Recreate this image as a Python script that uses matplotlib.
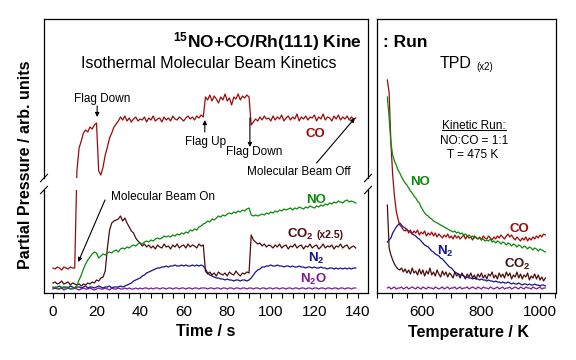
"""
15NO+CO/Rh(111) kinetic run: isothermal molecular beam traces + TPD
"""
import numpy as np
import matplotlib
matplotlib.use('Agg')
import matplotlib.pyplot as plt
from matplotlib.ticker import MultipleLocator
from matplotlib.transforms import Bbox
from matplotlib.lines import Line2D

plt.rcParams['font.family'] = ['Liberation Sans', 'DejaVu Sans']
plt.rcParams['mathtext.fontset'] = 'custom'
plt.rcParams['mathtext.rm'] = 'Liberation Sans'
plt.rcParams['mathtext.bf'] = 'Liberation Sans:bold'
plt.rcParams['mathtext.it'] = 'Liberation Sans:italic'

# ---- data: isothermal kinetics (time / s, partial pressure arb. units) ----
t_kin = np.arange(140)

co_kin = [25, 24, 26, 25, 23, 26, 25, 24, 26, 25,
          25, 122, 145, 152, 160, 163, 161, 166, 164, 168,
          170, 122, 118, 126, 138, 146, 155, 160, 166, 169,
          172, 176, 173, 177, 172, 175, 171, 174, 176, 172,
          174, 173, 176, 171, 175, 173, 177, 172, 174, 175,
          171, 176, 173, 175, 172, 177, 174, 173, 176, 174,
          172, 175, 177, 174, 176, 173, 177, 175, 178, 176,
          196, 193, 198, 192, 197, 194, 190, 196, 193, 199,
          192, 195, 188, 196, 194, 199, 193, 197, 195, 198,
          196, 168, 171, 174, 172, 176, 173, 177, 174, 175,
          172, 177, 173, 176, 174, 178, 172, 175, 177, 173,
          176, 174, 179, 172, 176, 174, 177, 173, 176, 175,
          178, 172, 176, 174, 179, 173, 176, 175, 172, 177,
          174, 178, 173, 176, 174, 177, 173, 176, 174, 175]

no_kin = [5, 6, 5, 4, 6, 5, 5, 6, 4, 5,
          5, 8, 13, 18, 24, 29, 33, 36, 39, 41,
          40, 35, 37, 39, 38, 40, 41, 40, 42, 43,
          41, 44, 45, 44, 46, 45, 47, 48, 47, 49,
          50, 49, 51, 52, 51, 53, 52, 54, 55, 54,
          55, 57, 56, 57, 56, 58, 57, 59, 58, 60,
          59, 61, 60, 63, 62, 64, 63, 66, 67, 69,
          70, 72, 71, 74, 73, 75, 77, 76, 78, 77,
          79, 80, 79, 81, 80, 82, 81, 83, 82, 84,
          85, 78, 77, 78, 77, 78, 79, 78, 80, 79,
          81, 80, 82, 81, 83, 82, 84, 83, 84, 85,
          83, 85, 84, 86, 85, 84, 86, 85, 87, 86,
          85, 87, 86, 88, 87, 89, 88, 90, 89, 91,
          90, 92, 91, 90, 92, 93, 91, 92, 91, 90]

co2_kin = [10, 11, 9, 10, 12, 9, 10, 11, 8, 10,
           9, 8, 9, 7, 9, 8, 10, 9, 11, 10,
           13, 12, 15, 16, 22, 45, 63, 70, 72, 73,
           74, 77, 72, 75, 70, 66, 62, 60, 55, 52,
           50, 47, 49, 46, 48, 45, 47, 44, 48, 46,
           45, 49, 46, 47, 44, 48, 46, 49, 45, 47,
           48, 45, 49, 46, 48, 47, 45, 49, 47, 48,
           22, 19, 21, 18, 20, 17, 21, 19, 18, 20,
           17, 21, 19, 18, 22, 19, 17, 20, 19, 21,
           20, 58, 53, 51, 49, 50, 47, 49, 46, 48,
           47, 45, 48, 46, 49, 45, 47, 48, 44, 47,
           46, 49, 45, 47, 48, 44, 47, 46, 49, 45,
           47, 48, 44, 46, 49, 45, 47, 46, 48, 44,
           47, 46, 49, 45, 47, 48, 44, 46, 47, 45]

n2_kin = [6, 5, 6, 7, 5, 6, 6, 5, 7, 6,
          5, 6, 6, 5, 6, 7, 5, 6, 6, 5,
          6, 7, 6, 5, 6, 6, 7, 5, 6, 6,
          6, 7, 6, 7, 8, 9, 10, 12, 13, 14,
          15, 17, 18, 20, 21, 22, 23, 24, 25, 25,
          26, 26, 27, 26, 27, 27, 28, 27, 27, 28,
          27, 28, 27, 27, 28, 27, 28, 27, 28, 27,
          24, 20, 18, 17, 16, 15, 15, 14, 14, 13,
          14, 13, 13, 12, 13, 13, 12, 13, 13, 12,
          13, 15, 18, 21, 23, 24, 26, 26, 27, 27,
          28, 27, 27, 28, 27, 27, 26, 27, 27, 26,
          27, 26, 26, 27, 26, 26, 25, 26, 26, 25,
          26, 25, 25, 26, 25, 25, 24, 25, 25, 24,
          25, 24, 25, 24, 25, 24, 25, 24, 25, 25]

n2o_kin = [4, 5, 4, 4, 5, 3, 4, 5, 4, 4,
           5, 4, 3, 4, 5, 4, 4, 5, 4, 3,
           4, 5, 4, 4, 5, 4, 3, 5, 4, 4,
           5, 4, 4, 5, 4, 5, 4, 4, 5, 4,
           5, 4, 5, 5, 4, 5, 4, 5, 5, 4,
           5, 5, 4, 5, 5, 4, 5, 5, 4, 5,
           5, 4, 5, 5, 4, 5, 5, 4, 5, 5,
           5, 4, 5, 5, 4, 5, 5, 4, 5, 5,
           4, 5, 5, 4, 5, 5, 4, 5, 5, 4,
           5, 5, 4, 5, 5, 4, 5, 5, 4, 5,
           5, 4, 5, 5, 4, 5, 5, 4, 5, 5,
           4, 5, 5, 4, 5, 5, 4, 5, 5, 4,
           5, 5, 4, 5, 5, 4, 5, 5, 4, 5,
           5, 4, 5, 5, 4, 5, 5, 4, 5, 5]

# ---- data: TPD after the run (temperature / K) ----
t_tpd = np.arange(484, 1020, 6)

co_tpd = [213, 200, 150, 118, 97, 82, 74, 68, 66, 63,
          62, 64, 60, 63, 59, 62, 60, 63, 58, 61,
          59, 62, 57, 60, 58, 61, 57, 60, 56, 59,
          57, 55, 58, 56, 59, 55, 57, 54, 58, 55,
          57, 54, 56, 58, 54, 57, 55, 56, 53, 57,
          55, 54, 56, 53, 57, 55, 54, 57, 55, 53,
          56, 54, 57, 55, 58, 56, 54, 57, 59, 56,
          58, 55, 53, 56, 54, 52, 55, 53, 56, 52,
          55, 53, 56, 54, 57, 55, 58, 56, 59, 58]

no_tpd = [196, 175, 150, 138, 132, 128, 123, 120, 116, 113,
          110, 108, 105, 102, 100, 97, 95, 92, 90, 86,
          83, 80, 78, 77, 75, 74, 72, 71, 70, 69,
          68, 67, 66, 65, 64, 63, 62, 61, 62, 60,
          61, 59, 60, 58, 59, 57, 58, 56, 57, 55,
          56, 54, 55, 53, 54, 52, 53, 52, 54, 51,
          52, 50, 52, 51, 49, 51, 50, 48, 50, 49,
          47, 49, 48, 46, 48, 47, 45, 47, 46, 44,
          46, 45, 43, 45, 44, 42, 44, 43, 42, 41]

n2_tpd = [51, 53, 55, 60, 63, 66, 68, 70, 68, 66,
          65, 63, 62, 61, 59, 58, 57, 55, 54, 52,
          50, 48, 47, 46, 44, 42, 41, 39, 38, 37,
          35, 34, 32, 30, 28, 26, 25, 23, 21, 20,
          19, 18, 18, 17, 16, 16, 15, 15, 14, 15,
          14, 14, 13, 14, 13, 13, 12, 13, 12, 12,
          11, 12, 11, 11, 10, 11, 10, 10, 11, 10,
          9, 10, 9, 9, 10, 9, 8, 9, 9, 8,
          9, 8, 8, 9, 8, 8, 7, 8, 8, 7]

co2_tpd = [88, 45, 38, 33, 29, 26, 24, 23, 25, 21,
           24, 20, 23, 19, 25, 20, 22, 18, 24, 19,
           23, 17, 22, 19, 25, 18, 21, 17, 23, 19,
           16, 22, 18, 21, 16, 20, 18, 15, 21, 17,
           19, 15, 20, 17, 14, 19, 16, 20, 15, 18,
           14, 19, 16, 20, 15, 18, 14, 19, 17, 21,
           15, 18, 14, 20, 16, 19, 15, 21, 17, 20,
           14, 18, 16, 21, 15, 19, 14, 18, 16, 20,
           13, 17, 15, 19, 14, 18, 13, 16, 12, 15]

n2o_tpd = [5, 6, 4, 5, 6, 4, 5, 5, 6, 4,
           5, 6, 4, 5, 6, 5, 4, 6, 5, 4,
           6, 5, 4, 6, 5, 5, 4, 6, 5, 4,
           5, 6, 4, 5, 6, 4, 5, 5, 6, 4,
           5, 6, 4, 5, 5, 6, 4, 5, 6, 5,
           4, 6, 5, 4, 6, 5, 5, 4, 6, 5,
           4, 5, 6, 4, 5, 6, 4, 5, 5, 6,
           4, 5, 6, 5, 4, 6, 5, 4, 6, 5,
           5, 4, 6, 5, 4, 5, 6, 4, 5, 5]

C_CO = '#9c0a0a'
C_NO = '#0a8a0a'
C_CO2 = '#4e0c0c'
C_N2 = '#14148c'
C_N2O = '#7c1a9a'

W, H = 576, 360
fig = plt.figure(figsize=(W / 100, H / 100), dpi=100)


def frac(x0, y0, x1, y1):
    # pixel box (origin top-left) -> figure rect
    return [x0 / W, 1 - y1 / H, (x1 - x0) / W, (y1 - y0) / H]


ax_top = fig.add_axes(frac(44, 19, 368, 178))
ax_bot = fig.add_axes(frac(44, 190, 368, 293))
ax_tpd = fig.add_axes(frac(377, 19, 556, 293))

lw = 0.9
for ax in (ax_top, ax_bot):
    ax.plot(t_kin, n2o_kin, color=C_N2O, lw=lw)
    ax.plot(t_kin, n2_kin, color=C_N2, lw=lw)
    ax.plot(t_kin, co2_kin, color=C_CO2, lw=lw)
    ax.plot(t_kin, no_kin, color=C_NO, lw=lw)
    ax.plot(t_kin, co_kin, color=C_CO, lw=lw)
    ax.set_xlim(-4.1, 144.6)
    ax.set_yticks([])
    for s in ax.spines.values():
        s.set_linewidth(0.9)

ax_top.set_ylim(115, 274)
ax_bot.set_ylim(0, 103)
ax_top.spines['bottom'].set_visible(False)
ax_bot.spines['top'].set_visible(False)
ax_top.set_xticks([])

ax_tpd.plot(t_tpd, n2o_tpd, color=C_N2O, lw=lw)
ax_tpd.plot(t_tpd, co2_tpd, color=C_CO2, lw=lw)
ax_tpd.plot(t_tpd, n2_tpd, color=C_N2, lw=lw)
ax_tpd.plot(t_tpd, co_tpd, color=C_CO, lw=lw)
ax_tpd.plot(t_tpd, no_tpd, color=C_NO, lw=lw)
ax_tpd.set_xlim(449, 1054)
ax_tpd.set_ylim(0, 274)
ax_tpd.set_yticks([])
for s in ax_tpd.spines.values():
    s.set_linewidth(0.9)

for ax, maj, mnr in ((ax_bot, 20, 5), (ax_tpd, 200, 50)):
    ax.xaxis.set_major_locator(MultipleLocator(maj))
    ax.xaxis.set_minor_locator(MultipleLocator(mnr))
    ax.tick_params(axis='x', which='both', direction='out', length=3.6,
                   width=0.8, labelsize=11, pad=5)

# broken-axis slashes on the left panel
for xp in (44, 368):
    for yp in (178, 190):
        fig.add_artist(Line2D([(xp - 3.5) / W, (xp + 3.5) / W],
                              [1 - (yp + 3.7) / H, 1 - (yp - 3.7) / H],
                              color='k', lw=0.8))

# titles (the left part is cut off by the panel edge, as in the original)
ttl = fig.text(172.7 / W, 1 - 47 / H, r'$^{\mathbf{15}}$NO+CO/Rh(111) Kine',
               fontsize=12.5, fontweight='bold', ha='left', va='baseline')
ttl.set_clip_box(Bbox.from_extents(0, 0, 361, H))
ttl.set_clip_on(True)
fig.text(383 / W, 1 - 47 / H, ': Run', fontsize=12.5, fontweight='bold',
         ha='left', va='baseline')
fig.text(209 / W, 1 - 68.5 / H, 'Isothermal Molecular Beam Kinetics',
         fontsize=11.5, ha='center', va='baseline')
fig.text(26 / W, 1 - 165 / H, 'Partial Pressure / arb. units', rotation=90,
         fontsize=11.5, fontweight='bold', ha='center', va='center')
fig.text(205.5 / W, 1 - 336.5 / H, 'Time / s', fontsize=11.5,
         fontweight='bold', ha='center', va='baseline')
fig.text(468.5 / W, 1 - 336.5 / H, 'Temperature / K', fontsize=11.5,
         fontweight='bold', ha='center', va='baseline')

# annotations on the kinetic panel
arw = dict(arrowstyle='-|>', color='k', lw=0.8, mutation_scale=6,
           shrinkA=0, shrinkB=0)
ax_top.text(22.5, 194, 'Flag Down', fontsize=8.5, ha='center', va='center')
ax_top.annotate('', xy=(20.3, 176), xytext=(20.3, 187), arrowprops=arw)
ax_top.text(70.2, 151, 'Flag Up', fontsize=8.5, ha='center', va='center')
ax_top.annotate('', xy=(69.7, 173), xytext=(69.7, 161), arrowprops=arw)
ax_top.text(92.5, 140.5, 'Flag Down', fontsize=8.5, ha='center', va='center')
ax_top.annotate('', xy=(90.4, 146), xytext=(90.4, 175), arrowprops=arw)
ax_top.text(112.9, 121, 'Molecular Beam Off', fontsize=8.5, ha='center',
            va='center', clip_on=False)
ax_top.annotate('', xy=(138.6, 175), xytext=(121, 130), arrowprops=arw)
ax_bot.text(50.5, 96.5, 'Molecular Beam On', fontsize=8.5, ha='center',
            va='center')
ax_bot.annotate('', xy=(11.6, 31), xytext=(23.9, 93), arrowprops=arw)

lab = dict(fontsize=9.5, fontweight='bold', ha='left', va='baseline')
ax_top.text(116.1, 156.3, 'CO', color=C_CO, **lab)
ax_bot.text(116.1, 90, 'NO', color=C_NO, **lab)
ax_bot.text(107.4, 55, r'CO$_\mathbf{2}$', color=C_CO2, **lab)
ax_bot.text(121, 55, '(x2.5)', color=C_CO2, fontsize=7.5, fontweight='bold',
            ha='left', va='baseline')
ax_bot.text(117, 31.3, r'N$_\mathbf{2}$', color=C_N2, **lab)
ax_bot.text(113.4, 10, r'N$_\mathbf{2}$O', color=C_N2O, **lab)

# TPD panel text
ax_tpd.text(661.8, 225, 'TPD', fontsize=11.5, ha='left', va='baseline')
ax_tpd.text(785.8, 223, '(x2)', fontsize=7, ha='left', va='baseline')
kin_txt = ax_tpd.text(776.7, 164, 'Kinetic Run:', fontsize=8.5, ha='center',
                      va='baseline')
ax_tpd.text(775.7, 149, 'NO:CO = 1:1', fontsize=8.5, ha='center', va='baseline')
ax_tpd.text(773, 135, 'T = 475 K', fontsize=8.5, ha='center', va='baseline')
ax_tpd.text(560.5, 108, 'NO', color=C_NO, **lab)
ax_tpd.text(898, 61.3, 'CO', color=C_CO, **lab)
ax_tpd.text(650.7, 38, r'N$_\mathbf{2}$', color=C_N2, **lab)
ax_tpd.text(879, 25, r'CO$_\mathbf{2}$', color=C_CO2, **lab)

# underline "Kinetic Run:"
fig.canvas.draw()
bb = kin_txt.get_window_extent()
base_y = ax_tpd.transData.transform((776.7, 164))[1] - 1.5
inv = fig.transFigure.inverted()
(x0f, yf), (x1f, _) = inv.transform([(bb.x0, base_y), (bb.x1, base_y)])
fig.add_artist(Line2D([x0f, x1f], [yf, yf], color='k', lw=0.7))

fig.savefig('out.png', dpi=100)
plt.close(fig)
